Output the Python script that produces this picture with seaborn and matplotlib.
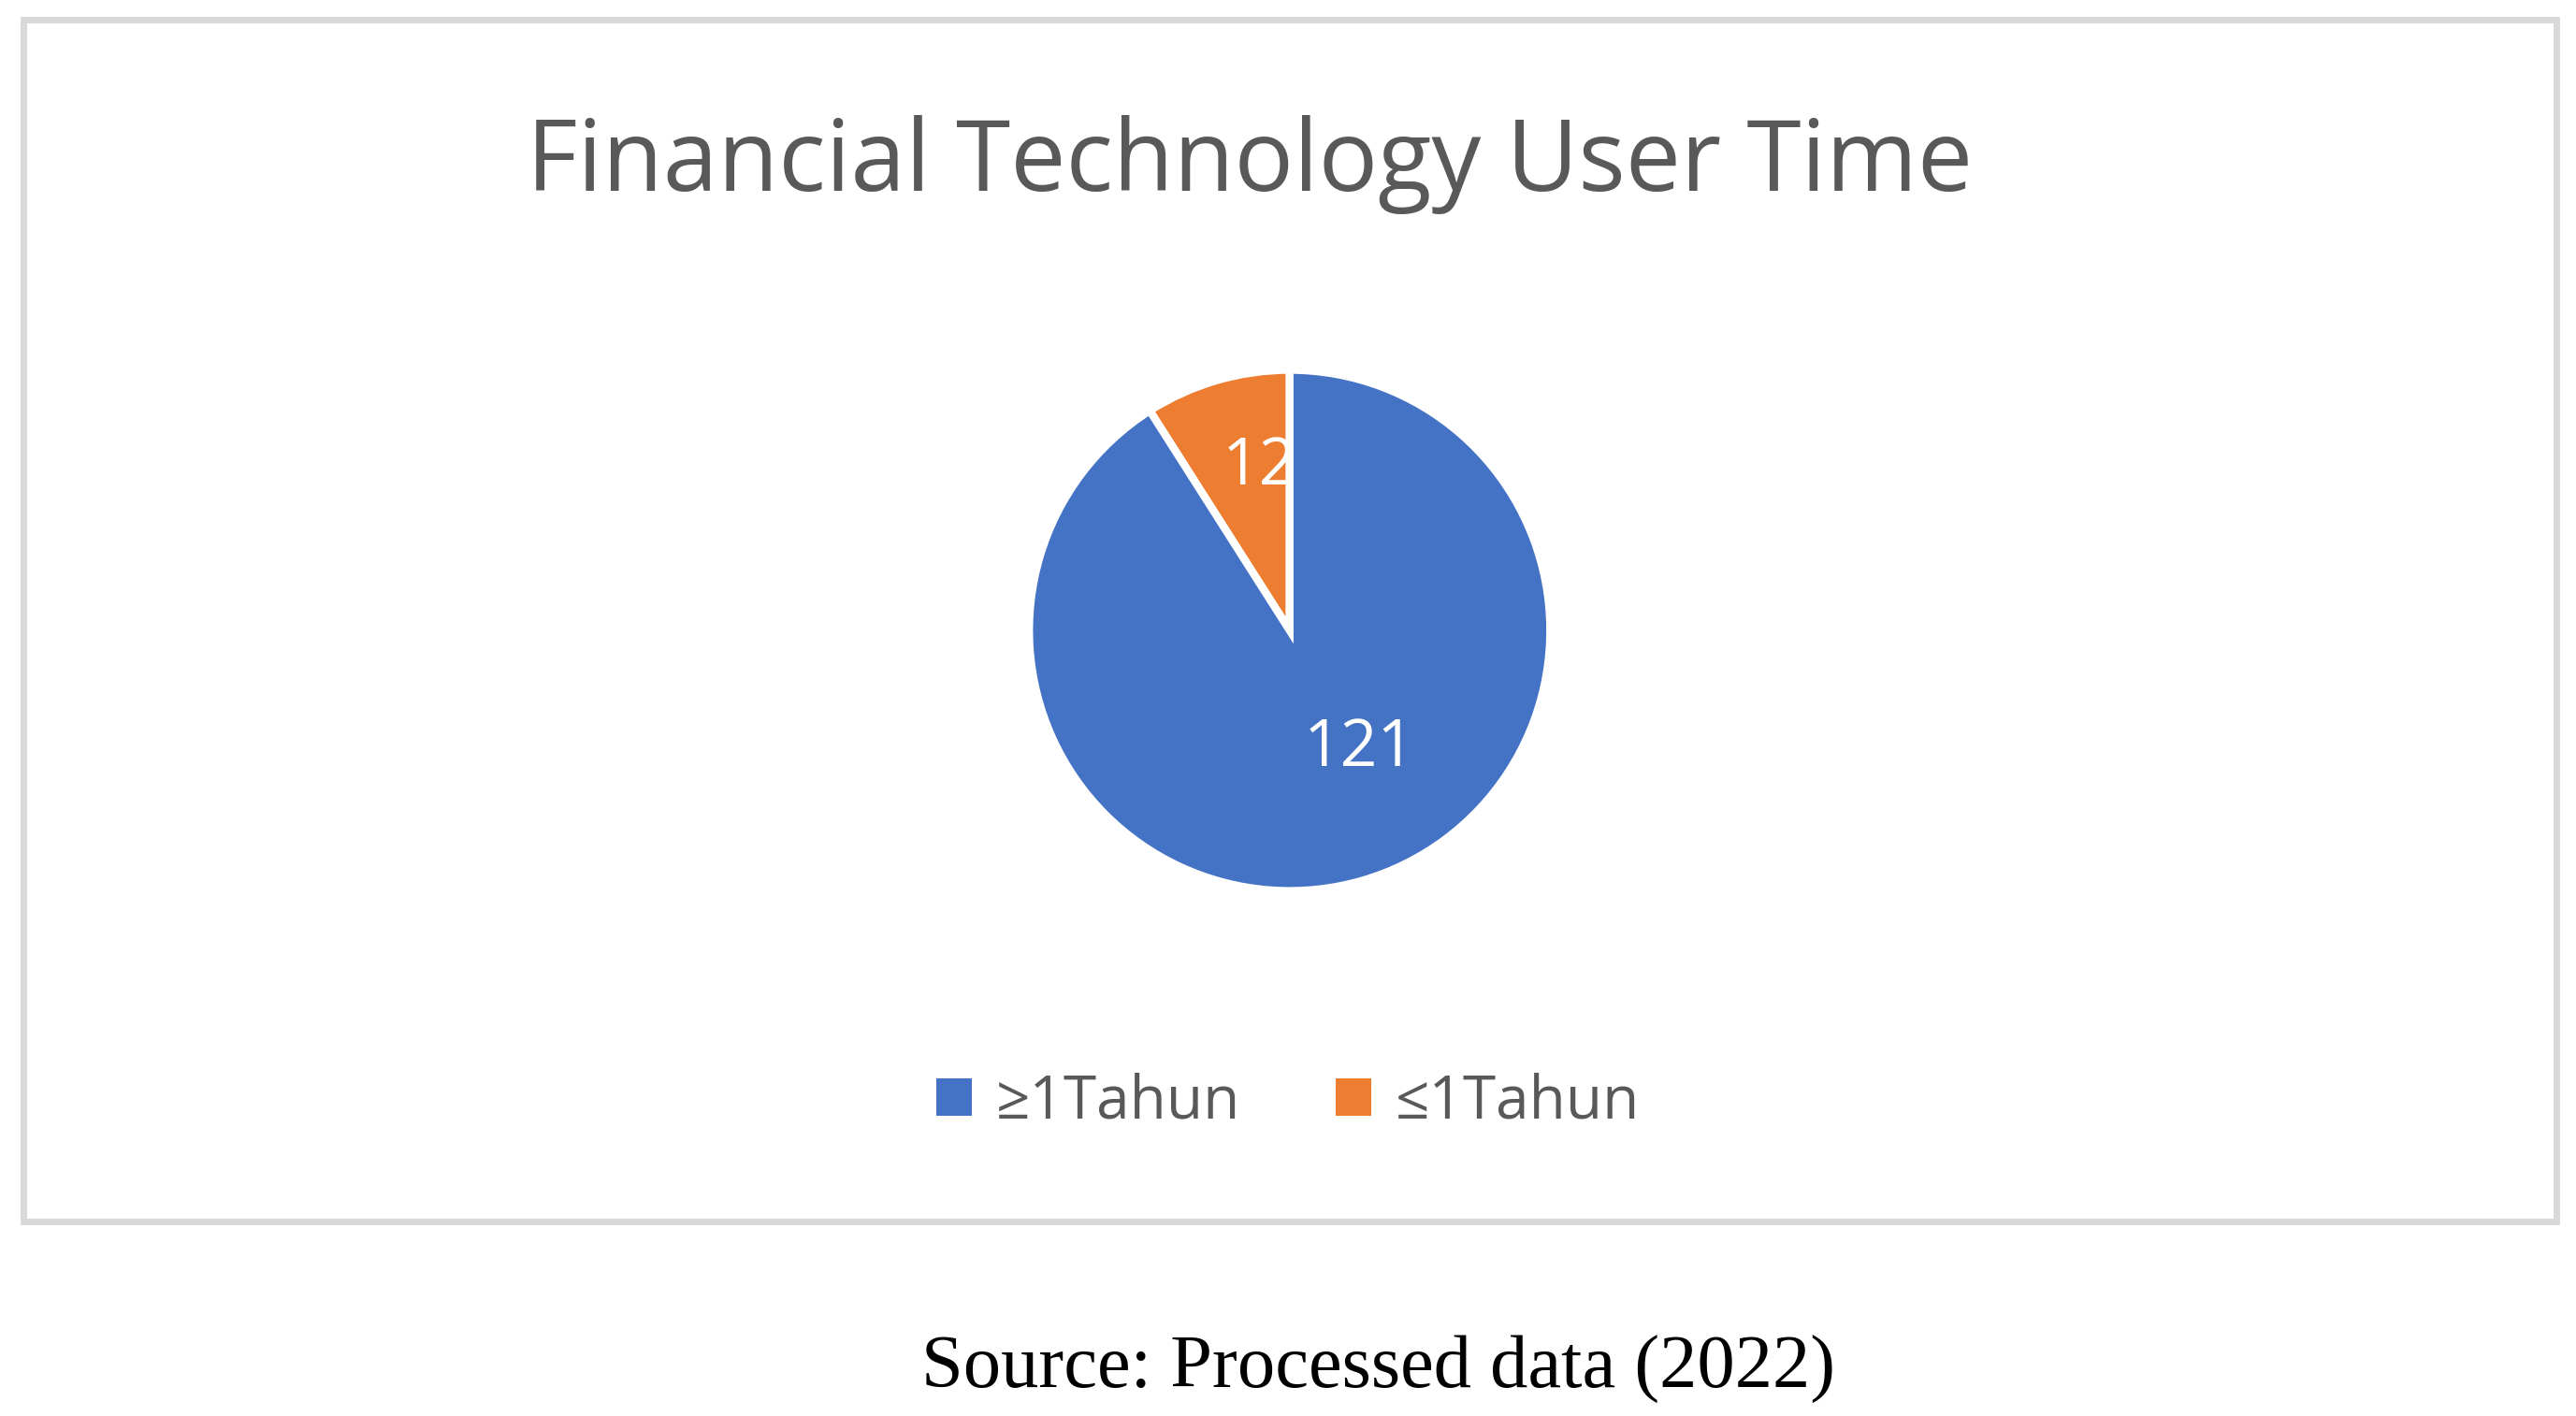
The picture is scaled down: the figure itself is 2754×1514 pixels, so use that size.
import matplotlib

matplotlib.use("Agg")
import matplotlib.pyplot as plt
import seaborn as sns
from matplotlib.patches import Rectangle, Patch

CATEGORIES = ["≥1Tahun", "≤1Tahun"]
VALUES = [121, 12]
COLORS = ["#4472c4", "#ed7d31"]
TITLE = "Financial Technology User Time"
SOURCE = "Source: Processed data (2022)"

sns.set_theme(style="white")
plt.rcParams["font.family"] = ["Open Sans", "DejaVu Sans"]

W, H = 2754, 1514
fig = plt.figure(figsize=(W / 200, H / 200), dpi=200)

# chart frame
fig.patches.append(Rectangle((14 / 1560, 1 - 740 / 858), 1534 / 1560, 728 / 858,
                             transform=fig.transFigure, fill=False,
                             edgecolor="#d9d9d9", linewidth=2.5))

fig.text(0.485, 1 - 100 / 858, TITLE, ha="center", va="center",
         fontsize=38, color="#595959")

h = 2 * 161 / 858
w = h * H / W
ax = fig.add_axes([781 / 1560 - w / 2, 1 - 382 / 858 - h / 2, w, h])
# draw orange first so it sits counter-clockwise from 12 o'clock
wedges, _, autotexts = ax.pie(
    VALUES[::-1], colors=COLORS[::-1], startangle=90, counterclock=True,
    autopct=lambda p: f"{round(p * sum(VALUES) / 100)}", pctdistance=0.6,
    wedgeprops=dict(edgecolor="white", linewidth=3),
    textprops=dict(color="white", fontsize=25),
)
autotexts[0].set_position((autotexts[0].get_position()[0] + 0.05, autotexts[0].get_position()[1] + 0.05))
autotexts[1].set_position((autotexts[1].get_position()[0] + 0.1, autotexts[1].get_position()[1] + 0.12))
ax.set_aspect("equal")
ax.set_xlim(-1.02, 1.02)
ax.set_ylim(-1.02, 1.02)

handles = [Patch(facecolor=c, edgecolor="none") for c in COLORS]
fig.legend(handles, CATEGORIES, loc="center", bbox_to_anchor=(0.5, 1 - 668 / 858),
           ncol=2, frameon=False, fontsize=23, labelcolor="#595959",
           handlelength=0.6, handleheight=0.6, handletextpad=0.4, columnspacing=1.6)

fig.text(0.535, 1 - 830 / 858, SOURCE, ha="center", va="center",
         fontsize=29, color="black", family=["Liberation Serif", "DejaVu Serif"])

fig.savefig("out.png", dpi=200, facecolor="white")
